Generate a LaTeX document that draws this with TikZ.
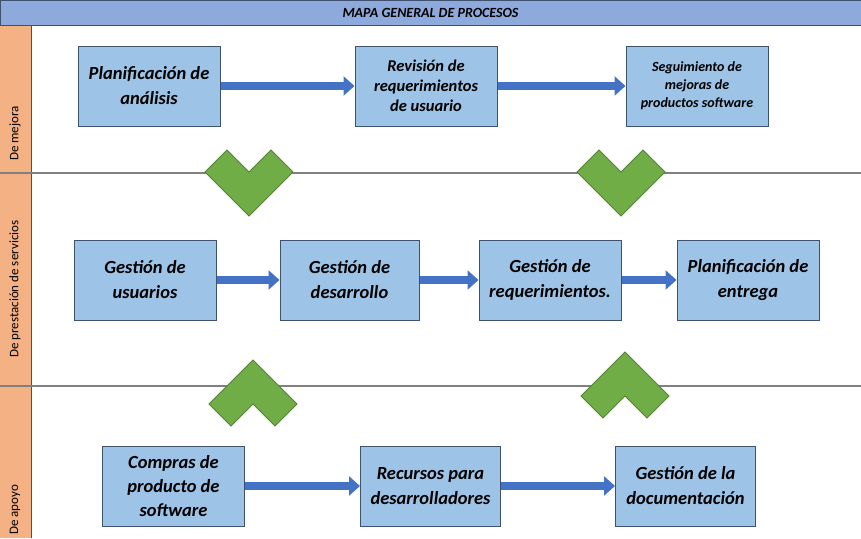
\documentclass[tikz,border=0pt]{standalone}
\usepackage{fontspec}
\setmainfont{Carlito}
\usetikzlibrary{positioning, arrows.meta}

\definecolor{boxblue}{RGB}{157,195,230}
\definecolor{boxline}{RGB}{62,82,112}
\definecolor{headblue}{RGB}{142,169,219}
\definecolor{lanebg}{RGB}{244,177,131}
\definecolor{chevgreen}{RGB}{112,173,71}
\definecolor{chevline}{RGB}{84,130,53}
\definecolor{arrowblue}{RGB}{68,114,196}

\begin{document}
\begin{tikzpicture}[
    x=1pt, y=-1pt,
    proc/.style={
        rectangle,
        draw=boxline,
        fill=boxblue,
        line width=1pt,
        minimum width=142pt,
        minimum height=80pt,
        align=center,
        inner sep=2pt,
        font=\fontsize{18.5}{25}\selectfont\bfseries\itshape
    },
    flow/.style={-{Triangle[length=11pt, width=19pt]}, line width=8pt, draw=arrowblue},
    lane/.style={draw=gray, line width=1.5pt},
    lanelabel/.style={rotate=90, anchor=west, inner sep=0pt, font=\fontsize{13}{15}\selectfont},
    chevdown/.pic={
        \filldraw[fill=chevgreen, draw=chevline, line width=0.8pt]
            (-44,0) -- (-22,-22) -- (0,0) -- (22,-22) -- (44,0) -- (0,44) -- cycle;
    },
    chevup/.pic={
        \filldraw[fill=chevgreen, draw=chevline, line width=0.8pt]
            (-44,0) -- (-22,22) -- (0,0) -- (22,22) -- (44,0) -- (0,-44) -- cycle;
    }
]
\useasboundingbox (0,0) rectangle (861,538);

% frame
\fill[lanebg] (0,25) rectangle (31,538);
\node[rectangle, draw=boxline, fill=headblue, line width=1pt, minimum width=861pt, minimum height=25pt,
      inner sep=0pt, font=\fontsize{14}{16}\selectfont\bfseries\itshape] (title) at (430.5,12.5) {MAPA GENERAL DE PROCESOS};
\draw[boxline, line width=1pt] (31,25) -- (31,538);
\draw[lane] (0,173) -- (861,173);
\draw[lane] (0,386) -- (861,386);

\node[lanelabel] (lmejora) at (15,161) {De mejora};
\node[lanelabel] (lservicio) at (15,358) {De prestación de servicios};
\node[lanelabel] (lapoyo) at (15,535) {De apoyo};

% de mejora
\node[proc] (plan) at (149,86) {Planificación de\\análisis};
\node[proc, font=\fontsize{16.5}{20}\selectfont\bfseries\itshape] (revision) [right=134pt of plan] {Revisión de\\requerimientos\\de usuario};
\node[proc, font=\fontsize{14}{18}\selectfont\bfseries\itshape] (seguim) [right=128pt of revision] {Seguimiento de\\mejoras de\\productos software};

\draw[flow] (plan) -- (revision);
\draw[flow] (revision) -- (seguim);

% de prestacion de servicios
\node[proc] (usuarios) at (145,280) {Gestión de\\usuarios};
\node[proc, minimum width=139pt] (desarrollo) [right=63pt of usuarios] {Gestión de\\desarrollo};
\node[proc] (requer) [right=59pt of desarrollo] {Gestión de\\requerimientos.};
\node[proc] (entrega) [right=55pt of requer] {Planificación de\\entrega};

\draw[flow] (usuarios) -- (desarrollo);
\draw[flow] (desarrollo) -- (requer);
\draw[flow] (requer) -- (entrega);

% de apoyo
\node[proc, font=\fontsize{18.5}{24}\selectfont\bfseries\itshape] (compras) at (173.5,486) {Compras de\\producto de\\software};
\node[proc, minimum width=140pt] (recursos) [right=115pt of compras] {Recursos para\\desarrolladores};
\node[proc, minimum width=140pt] (document) [right=114pt of recursos] {Gestión de la\\documentación};

\draw[flow] (compras) -- (recursos);
\draw[flow] (recursos) -- (document);

% enlaces entre carriles
\pic at (249,172) {chevdown};
\pic at (621,172) {chevdown};
\pic at (253,404) {chevup};
\pic at (625,396) {chevup};

\end{tikzpicture}
\end{document}
